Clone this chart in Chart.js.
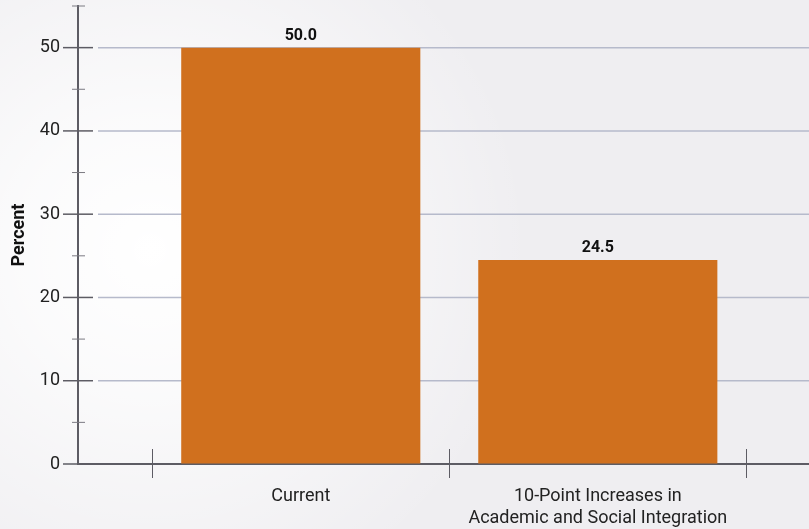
<!DOCTYPE html>
<html>
<head>
<meta charset="utf-8">
<script src="https://cdn.jsdelivr.net/npm/chart.js@4/dist/chart.umd.min.js"></script>
<style>
  html, body { margin: 0; padding: 0; background: #efeef1; }
  #wrap { width: 809px; height: 529px; position: relative; }
</style>
</head>
<body>
<div id="wrap"><canvas id="c" width="809" height="529"></canvas></div>
<script>
const categories = ['Current', '10-Point Increases in\nAcademic and Social Integration'];
const values = [50.0, 24.5];
const valueLabels = ['50.0', '24.5'];
const yMajorTicks = [0, 10, 20, 30, 40, 50];
const yMinorTicks = [5, 15, 25, 35, 45, 55];
const yTitle = 'Percent';

const FONT = 'Roboto, "Noto Sans", sans-serif';
const AXIS = '#5d5c64';

const decor = {
  id: 'decor',
  beforeDraw(chart) {
    const ctx = chart.ctx;
    ctx.save();
    ctx.fillStyle = '#efeef1';
    ctx.fillRect(0, 0, chart.width, chart.height);
    const g = ctx.createRadialGradient(150, 250, 0, 150, 250, 380);
    g.addColorStop(0, 'rgba(255,255,255,1)');
    g.addColorStop(0.35, 'rgba(255,255,255,0.75)');
    g.addColorStop(1, 'rgba(255,255,255,0)');
    ctx.fillStyle = g;
    ctx.fillRect(0, 0, chart.width, chart.height);
    ctx.restore();
  },
  beforeDatasetsDraw(chart) {
    const ctx = chart.ctx, ca = chart.chartArea;
    const y = chart.scales.y, x = chart.scales.x;
    ctx.save();
    ctx.strokeStyle = '#b6bacb';
    ctx.lineWidth = 1.5;
    yMajorTicks.forEach(v => {
      if (v === 0) return;
      const py = y.getPixelForValue(v);
      ctx.beginPath(); ctx.moveTo(ca.left + 20, py); ctx.lineTo(ca.right, py); ctx.stroke();
    });
    ctx.strokeStyle = AXIS;
    ctx.lineWidth = 1.5;
    yMajorTicks.forEach(v => {
      const py = y.getPixelForValue(v);
      ctx.beginPath(); ctx.moveTo(ca.left - 15, py); ctx.lineTo(ca.left + (v === 0 ? 0 : 15), py); ctx.stroke();
    });
    ctx.strokeStyle = '#7b7a82';
    ctx.lineWidth = 1;
    yMinorTicks.forEach(v => {
      const py = y.getPixelForValue(v);
      ctx.beginPath(); ctx.moveTo(ca.left - 6, py); ctx.lineTo(ca.left + 7, py); ctx.stroke();
    });
    ctx.strokeStyle = AXIS;
    ctx.lineWidth = 1;
    for (let i = 0; i <= categories.length; i++) {
      const px = Math.round(x.getPixelForValue(i - 0.5)) + 0.5;
      ctx.beginPath(); ctx.moveTo(px, ca.bottom - 15); ctx.lineTo(px, ca.bottom + 14); ctx.stroke();
    }
    ctx.restore();
  },
  afterDatasetsDraw(chart) {
    const ctx = chart.ctx;
    const meta = chart.getDatasetMeta(0);
    ctx.save();
    ctx.fillStyle = '#111';
    ctx.font = 'bold 16px ' + FONT;
    ctx.textAlign = 'center';
    ctx.textBaseline = 'bottom';
    meta.data.forEach((bar, i) => {
      ctx.fillText(valueLabels[i], bar.x, bar.y - 4);
    });
    ctx.restore();
  }
};

new Chart(document.getElementById('c'), {
  type: 'bar',
  data: {
    datasets: [{
      data: values.map((v, i) => ({ x: i, y: v })),
      backgroundColor: '#d0701e',
      borderWidth: 0,
      barPercentage: 0.805,
      categoryPercentage: 1.0
    }]
  },
  options: {
    responsive: false,
    animation: false,
    events: [],
    layout: { padding: { top: 6, left: 0, right: 0, bottom: 0 } },
    plugins: { legend: { display: false }, tooltip: { enabled: false } },
    scales: {
      x: {
        type: 'linear',
        offset: false,
        min: -0.75,
        max: 1.711,
        grid: { display: false },
        border: { display: true, color: AXIS, width: 2 },
        afterBuildTicks: (s) => { s.ticks = categories.map((c, i) => ({ value: i })); },
        afterFit: (s) => { s.height = 65; },
        ticks: {
          autoSkip: false,
          maxRotation: 0,
          padding: 14,
          color: '#222',
          font: { family: FONT, size: 18, lineHeight: 1.22 },
          callback: (v) => {
            const c = categories[v];
            return c === undefined ? '' : c.split('\n');
          }
        }
      },
      y: {
        min: 0,
        max: 55,
        grid: { display: true, drawOnChartArea: false, drawTicks: true, tickLength: 18, tickColor: 'rgba(0,0,0,0)', color: 'rgba(0,0,0,0)' },
        border: { display: true, color: AXIS, width: 2 },
        afterBuildTicks: (s) => { s.ticks = yMajorTicks.map(v => ({ value: v })); },
        afterFit: (s) => { s.width = 78; },
        ticks: {
          padding: 0,
          color: '#222',
          font: { family: FONT, size: 18, lineHeight: 0.65 }
        },
        title: {
          display: true,
          text: yTitle,
          color: '#111',
          font: { family: FONT, size: 18, weight: 'bold' },
          padding: { top: 9, bottom: 0 }
        }
      }
    }
  },
  plugins: [decor]
});
</script>
</body>
</html>
